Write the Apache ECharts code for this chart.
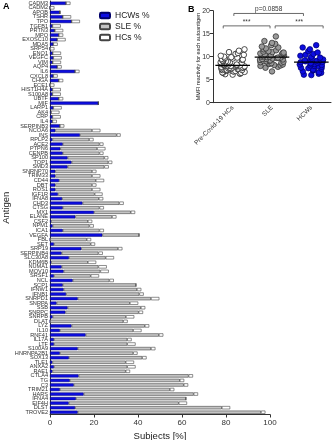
<!DOCTYPE html>
<html>
<head>
<meta charset="utf-8">
<script src="https://cdn.jsdelivr.net/npm/echarts@6/dist/echarts.min.js"></script>
<style>
html, body { margin: 0; padding: 0; background: #fff; }
#chart { width: 333px; height: 440px; }
</style>
</head>
<body>
<div id="chart"></div>
<script>
// panel A: antigens, top to bottom
var antigens = ['CADM3', 'CADM2', 'APOB', 'TSHR', 'TPO', 'TGFB1', 'PRTN3', 'MPO', 'EXOSC10', 'MDA5',
  'SRP54', 'ENO1', 'VEGFC', 'VIM', 'AQP4', 'IL6', 'CXCL8', 'CHGA', 'ECE1', 'HIST1H4A',
  'S100A8', 'UBTF', 'MIF', 'LARP1', 'AK4', 'CRP', 'IL4', 'SERPINB3', 'NCOA6', 'INS',
  'RPLP2', 'ACE2', 'PTPN6', 'CENPB', 'SP100', 'TOP1', 'SMD3', 'SNRNP70', 'TRIM33', 'CD44',
  'DBT', 'ROS1', 'IGF1R', 'IFNA8', 'CHD3', 'CTSG', 'MX1', 'ELANE', 'CSF2', 'NPM1',
  'ICA1', 'VEGFA', 'FBL', 'SET', 'SRP19', 'SERPINB4', 'SLC30A8', 'KDM6B', 'NUMA1', 'MOV10',
  'SRSF1', 'NCL', 'SCP1', 'IFNW1', 'IFNB1', 'SNRPD1', 'SNRPA', 'SSB', 'SNRPC', 'SNRPB',
  'DLAT', 'LYZ', 'IL10', 'RNF41', 'IL17A', 'LTF', 'S100A9', 'HNRNPA2B1', 'SOX13', 'TLE1',
  'ANXA2', 'RAE1', 'CTLA4', 'TG', 'C3', 'TRIM21', 'HARS', 'IFNA4', 'EIF4H', 'DLST',
  'TROVE2'];
var hcwsPct = [7.3, 0, 4.5, 5.8, 9.8, 1.1, 2.2, 4, 3.3, 1.5,
  0, 1.2, 1.5, 1.2, 3.3, 11.4, 1.5, 4, 0, 1.1,
  1.1, 4, 22, 1.5, 0.5, 1.1, 1.1, 4.5, 2.4, 13.6,
  1.1, 5.8, 4.7, 5.8, 8, 9.8, 8, 2.4, 2.4, 4.1,
  2.4, 2.4, 3.6, 5.5, 14.8, 5.8, 20, 11.5, 0.5, 1.2,
  5.8, 23.8, 0, 1.8, 14.2, 5.3, 8.6, 0.5, 5.3, 6.2,
  1.8, 10.3, 5.8, 6.2, 7.3, 12.6, 3, 8, 7, 1.2,
  0, 9.8, 4.5, 16.2, 1.8, 1.8, 12.6, 4.5, 8.6, 1.1,
  1.8, 1.1, 13, 9, 10.8, 4.5, 15.3, 11.8, 8.5, 11.4,
  12.6];
var slePct = [0, 0, 0, 0, 0, 0, 0, 0, 0, 0,
  0, 0, 0, 0, 0, 0, 0, 0, 0, 0,
  0, 0, 0, 0, 0, 0, 0, 0, 16.7, 16.7,
  16.7, 16.7, 16.7, 16.7, 16.7, 16.7, 16.7, 16.7, 16.7, 16.7,
  16.7, 16.7, 16.7, 16.7, 16.7, 16.7, 16.7, 16.7, 16.7, 16.7,
  16.7, 16.7, 16.7, 16.7, 16.7, 16.7, 16.7, 16.7, 16.7, 16.7,
  16.7, 16.7, 33.3, 33.3, 33.3, 33.3, 33.3, 33.3, 33.3, 33.3,
  33.3, 33.3, 33.3, 33.3, 33.3, 33.3, 33.3, 33.3, 33.3, 33.3,
  33.3, 33.3, 50, 50, 50, 50, 50, 50, 50, 66.7,
  83.3];
var hcsPct = [2, 2, 0, 3.8, 3.8, 3.8, 3.8, 2, 3.8, 2,
  2, 3.8, 3.8, 3.8, 2, 2, 2, 2, 2, 3.8,
  3.8, 2, 0, 3.8, 3.8, 3.8, 2, 2, 3.8, 1.8,
  2, 1.8, 3.8, 1.8, 1.8, 1.8, 2, 2, 3.8, 3.8,
  2, 3.8, 3.6, 2, 2, 2, 2, 2, 2, 2,
  2, 0, 2, 2, 2, 2, 3.8, 3.8, 3.8, 3.8,
  3.8, 2, 0, 2, 2, 3.8, 3.8, 2, 2, 3.8,
  2, 2, 3.8, 2, 2, 3.8, 2, 2, 2, 3.8,
  3.8, 2, 2, 2, 2, 2, 2, 0, 3.8, 3.8,
  2];

// panel B: MMFI per antigen for each group
var groups = ['Pre-Covid-19 HCs', 'SLE', 'HCWs'];
var mmfiHCs = [6.1, 6.2, 6.3, 6.4, 6.5, 6.5, 6.6, 6.7, 6.8, 6.8, 6.9, 7.0, 7.0, 7.1, 7.1, 7.2, 7.2, 7.3, 7.3, 7.4,
  7.4, 7.5, 7.5, 7.5, 7.6, 7.6, 7.7, 7.7, 7.8, 7.8, 7.9, 7.9, 8.0, 8.0, 8.0, 8.1, 8.1, 8.2, 8.2, 8.3,
  8.3, 8.4, 8.4, 8.5, 8.5, 8.6, 8.6, 8.7, 8.8, 8.8, 8.9, 9.0, 9.0, 9.1, 9.2, 9.3, 9.4, 9.5, 9.6, 9.7,
  9.8, 9.9, 10.0, 10.2, 10.4, 10.6, 10.8, 11.0, 11.3, 11.6];
var mmfiSLE = [6.8, 7.6, 7.8, 8.0, 8.1, 8.2, 8.3, 8.4, 8.5, 8.6, 8.7, 8.8, 8.9, 9.0, 9.0, 9.1, 9.2, 9.3, 9.4, 9.5,
  9.5, 9.6, 9.7, 9.8, 9.8, 9.9, 10.0, 10.0, 10.1, 10.2, 10.3, 10.4, 10.5, 10.6, 10.7, 10.8, 10.9, 11.0, 11.1, 11.2,
  11.4, 11.6, 11.8, 12.0, 12.2, 12.5, 12.8, 13.0, 13.4, 14.4];
var mmfiHCWs = [6.0, 6.1, 6.3, 6.5, 6.6, 6.8, 7.0, 7.1, 7.2, 7.4, 7.5, 7.6, 7.8, 7.9, 8.0, 8.1, 8.2, 8.3, 8.4, 8.5,
  8.6, 8.7, 8.7, 8.8, 8.9, 9.0, 9.1, 9.2, 9.3, 9.4, 9.5, 9.6, 9.8, 10.0, 10.2, 10.4, 10.6, 10.9, 11.2, 11.6,
  12.0, 12.5];
var medians = [8.1, 9.9, 8.8];
// brackets: from group, to group (fractional), y level, text
var brackets = [[0.03, 1.8, 19.4, 'p=0.0858'], [-0.24, 0.95, 16.7, '***'], [1.08, 2.3, 16.7, '***']];

var font = 'Liberation Sans, Arial, sans-serif';
var blue = '#0d0de0';

var myChart = echarts.init(document.getElementById('chart'));

function toPoints(idx, arr) {
  return arr.map(function (v) { return [idx, v]; });
}

myChart.setOption({
  animation: false,
  textStyle: { fontFamily: font },
  graphic: [
    { type: 'text', left: 3, top: 2, style: { text: 'A', fontSize: 9, fontWeight: 'bold', fill: '#000', fontFamily: font } },
    { type: 'text', left: 188, top: 5, style: { text: 'B', fontSize: 9, fontWeight: 'bold', fill: '#000', fontFamily: font } }
  ],
  legend: {
    data: ['HCWs %', 'SLE %', 'HCs %'],
    orient: 'vertical',
    left: 99,
    top: 11,
    itemWidth: 10,
    itemHeight: 5.5,
    itemGap: 2,
    padding: 0,
    textStyle: { fontSize: 8.5, color: '#222', fontFamily: font }
  },
  grid: [
    { left: 50, right: 63, top: 1, bottom: 25.5, outerBoundsMode: 'none', containLabel: false },
    { left: 213, right: 2, top: 10.7, bottom: 337.3, outerBoundsMode: 'none', containLabel: false }
  ],
  xAxis: [
    {
      gridIndex: 0,
      type: 'value',
      min: 0,
      max: 100,
      interval: 20,
      name: 'Subjects [%]',
      nameLocation: 'middle',
      nameGap: 15,
      nameTextStyle: { fontSize: 9.5, color: '#222' },
      axisLine: { show: true, lineStyle: { color: '#333', width: 1 } },
      axisTick: { show: true, length: 3, lineStyle: { color: '#333' } },
      axisLabel: { fontSize: 8, color: '#333', margin: 4 },
      splitLine: { show: false }
    },
    {
      gridIndex: 1,
      type: 'category',
      data: groups,
      jitter: 24,
      jitterOverlap: false,
      axisLine: { lineStyle: { color: '#333', width: 1 } },
      axisTick: { alignWithLabel: true, length: 3, lineStyle: { color: '#333' } },
      axisLabel: { fontSize: 6.5, color: '#333', rotate: 45, margin: 4, interval: 0 }
    }
  ],
  yAxis: [
    {
      gridIndex: 0,
      type: 'category',
      data: antigens,
      inverse: true,
      name: 'Antigen',
      nameLocation: 'middle',
      nameGap: 39,
      nameMoveOverlap: false,
      nameTextStyle: { fontSize: 9.5, color: '#222' },
      axisLine: { lineStyle: { color: '#333', width: 1 } },
      axisTick: { alignWithLabel: true, length: 2, lineStyle: { color: '#333' } },
      axisLabel: { fontSize: 5.6, color: '#333', interval: 0, margin: 2 }
    },
    {
      gridIndex: 1,
      type: 'value',
      min: 0,
      max: 20,
      interval: 5,
      name: 'MMFI reactivity for each autoantigen',
      nameLocation: 'middle',
      nameGap: 12,
      nameMoveOverlap: false,
      nameTextStyle: { fontSize: 5.4, color: '#222' },
      axisLine: { show: true, lineStyle: { color: '#333', width: 1 } },
      axisTick: { show: true, length: 3, lineStyle: { color: '#333' } },
      axisLabel: { fontSize: 7, color: '#333', margin: 3 },
      splitLine: { show: false }
    }
  ],
  series: [
    {
      name: 'HCWs %', type: 'bar', stack: 'a', xAxisIndex: 0, yAxisIndex: 0,
      barWidth: '72%', data: hcwsPct,
      itemStyle: { color: blue, borderColor: '#00006a', borderWidth: 0.5 }
    },
    {
      name: 'SLE %', type: 'bar', stack: 'a', xAxisIndex: 0, yAxisIndex: 0,
      barWidth: '72%', data: slePct,
      itemStyle: { color: '#c4c4c4', borderColor: '#444', borderWidth: 0.6 }
    },
    {
      name: 'HCs %', type: 'bar', stack: 'a', xAxisIndex: 0, yAxisIndex: 0,
      barWidth: '72%', data: hcsPct,
      itemStyle: { color: '#ffffff', borderColor: '#444', borderWidth: 0.6 }
    },
    {
      name: 'HCs', type: 'scatter', xAxisIndex: 1, yAxisIndex: 1,
      symbolSize: 5.5, data: toPoints(0, mmfiHCs),
      itemStyle: { color: '#fff', borderColor: '#222', borderWidth: 0.8, opacity: 1 }
    },
    {
      name: 'SLE', type: 'scatter', xAxisIndex: 1, yAxisIndex: 1,
      symbolSize: 5.5, data: toPoints(1, mmfiSLE),
      itemStyle: { color: '#9a9a9a', borderColor: '#333', borderWidth: 0.8, opacity: 1 }
    },
    {
      name: 'HCWs', type: 'scatter', xAxisIndex: 1, yAxisIndex: 1,
      symbolSize: 5.5, data: toPoints(2, mmfiHCWs),
      itemStyle: { color: blue, borderColor: '#00007a', borderWidth: 0.8, opacity: 1 }
    },
    {
      name: 'median', type: 'custom', xAxisIndex: 1, yAxisIndex: 1, z: 5,
      data: medians.map(function (m, i) { return [i, m]; }),
      renderItem: function (params, api) {
        var p = api.coord([api.value(0), api.value(1)]);
        var bw = api.size([1, 0])[0];
        return {
          type: 'line',
          shape: { x1: p[0] - bw * 0.44, y1: p[1], x2: p[0] + bw * 0.44, y2: p[1] },
          style: { stroke: '#000', lineWidth: 1.2 }
        };
      }
    },
    {
      name: 'brackets', type: 'custom', xAxisIndex: 1, yAxisIndex: 1, z: 5,
      data: brackets,
      renderItem: function (params, api) {
        var b = brackets[params.dataIndex];
        var p0 = api.coord([0, b[2]]);
        var bw = api.size([1, 0])[0];
        var x1 = p0[0] + b[0] * bw;
        var x2 = p0[0] + b[1] * bw;
        var y = p0[1];
        return {
          type: 'group',
          children: [
            { type: 'polyline', shape: { points: [[x1, y + 2.5], [x1, y], [x2, y], [x2, y + 2.5]] },
              style: { stroke: '#444', lineWidth: 0.8, fill: null } },
            { type: 'text', style: { text: b[3], x: (x1 + x2) / 2, y: y - 0.5, align: 'center', verticalAlign: 'bottom',
              fontSize: 6.5, fill: '#333', fontFamily: font } }
          ]
        };
      }
    }
  ]
});
</script>
</body>
</html>
